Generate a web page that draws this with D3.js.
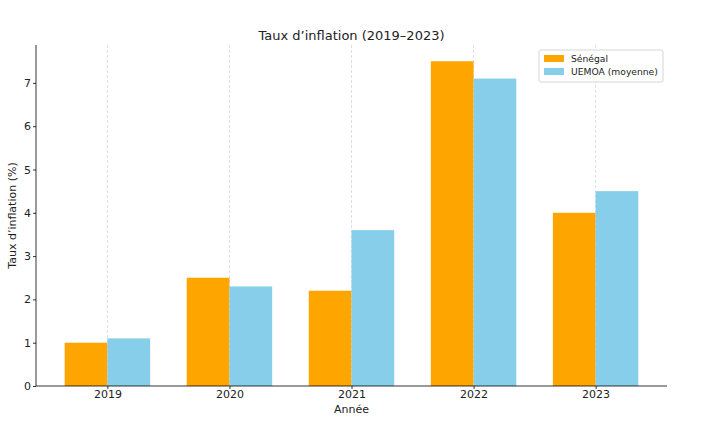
<!DOCTYPE html>
<html>
<head>
  <meta charset="utf-8">
  <script src="https://d3js.org/d3.v7.min.js"></script>
  <style>
    body { margin: 0; background: #fff; }
    svg { display: block; font-family: "DejaVu Sans", sans-serif; }
  </style>
</head>
<body>
  <svg id="chart" width="703" height="424"></svg>

  <script>
    // Data
    const years = ['2019', '2020', '2021', '2022', '2023'];
    const senegal = [1.0, 2.5, 2.2, 7.5, 4.0];
    const uemoa = [1.1, 2.3, 3.6, 7.1, 4.5];
    const seriesNames = ['Sénégal', 'UEMOA (moyenne)'];
    const seriesColors = ['#ffa500', '#87ceeb'];
    const yTicks = [0, 1, 2, 3, 4, 5, 6, 7];

    const margin = { top: 45, right: 36, bottom: 38, left: 36 };
    const width = 703 - margin.left - margin.right;
    const height = 424 - margin.top - margin.bottom;

    const svg = d3.select('#chart');
    const g = svg.append('g').attr('transform', `translate(${margin.left},${margin.top})`);

    // x as a linear index scale, like matplotlib bar positions
    const barW = 0.35;
    const x = d3.scaleLinear().domain([-0.585, years.length - 1 + 0.585]).range([0, width]);
    const y = d3.scaleLinear().domain([0, 7.875]).range([height, 0]);

    // Vertical dashed grid
    g.selectAll('line.grid')
      .data(years)
      .join('line')
      .attr('class', 'grid')
      .attr('x1', (d, i) => x(i)).attr('x2', (d, i) => x(i))
      .attr('y1', 0).attr('y2', height)
      .attr('stroke', '#b0b0b0')
      .attr('stroke-opacity', 0.5)
      .attr('stroke-width', 0.8)
      .attr('stroke-dasharray', '3,2');

    // Bars
    const series = [senegal, uemoa];
    series.forEach((vals, s) => {
      g.selectAll(`rect.s${s}`)
        .data(vals)
        .join('rect')
        .attr('class', `s${s}`)
        .attr('x', (d, i) => x(i + (s === 0 ? -barW : 0)))
        .attr('width', x(barW) - x(0))
        .attr('y', d => y(d))
        .attr('height', d => y(0) - y(d))
        .attr('fill', seriesColors[s]);
    });

    // Axes
    const xAxis = d3.axisBottom(x)
      .tickValues(d3.range(years.length))
      .tickFormat(i => years[i])
      .tickSize(3).tickPadding(1.5);
    const gx = g.append('g').attr('transform', `translate(0,${height})`).call(xAxis);

    const yAxis = d3.axisLeft(y).tickValues(yTicks).tickSize(3).tickPadding(2);
    const gy = g.append('g').call(yAxis);

    [gx, gy].forEach(ax => {
      ax.select('.domain').attr('stroke', '#000').attr('stroke-width', 0.8)
        .attr('d', ax === gx ? `M0,0H${width}` : `M0,0V${height}`);
      ax.selectAll('.tick line').attr('stroke', '#000').attr('stroke-width', 0.8);
      ax.selectAll('.tick text').attr('fill', '#222').style('font-size', '11px');
      ax.attr('font-family', null);
    });

    // Labels
    svg.append('text')
      .attr('x', margin.left + width / 2).attr('y', 39.5)
      .attr('text-anchor', 'middle')
      .attr('fill', '#222')
      .style('font-size', '13px')
      .text('Taux d’inflation (2019–2023)');

    svg.append('text')
      .attr('x', margin.left + width / 2).attr('y', 413)
      .attr('text-anchor', 'middle')
      .attr('fill', '#222')
      .style('font-size', '11px')
      .text('Année');

    svg.append('text')
      .attr('transform', `translate(16,${margin.top + height / 2}) rotate(-90)`)
      .attr('text-anchor', 'middle')
      .attr('fill', '#222')
      .style('font-size', '11px')
      .text('Taux d’inflation (%)');

    // Legend
    const lg = svg.append('g').attr('transform', 'translate(539,50)');
    lg.append('rect')
      .attr('width', 124).attr('height', 32)
      .attr('rx', 2)
      .attr('fill', '#fff').attr('fill-opacity', 0.8)
      .attr('stroke', '#ccc').attr('stroke-width', 0.8);
    seriesNames.forEach((name, i) => {
      lg.append('rect')
        .attr('x', 5).attr('y', 5 + i * 13)
        .attr('width', 20).attr('height', 7)
        .attr('fill', seriesColors[i]);
      lg.append('text')
        .attr('x', 32).attr('y', 12 + i * 13)
        .attr('fill', '#222')
        .style('font-size', '9.2px')
        .text(name);
    });
  </script>
</body>
</html>
